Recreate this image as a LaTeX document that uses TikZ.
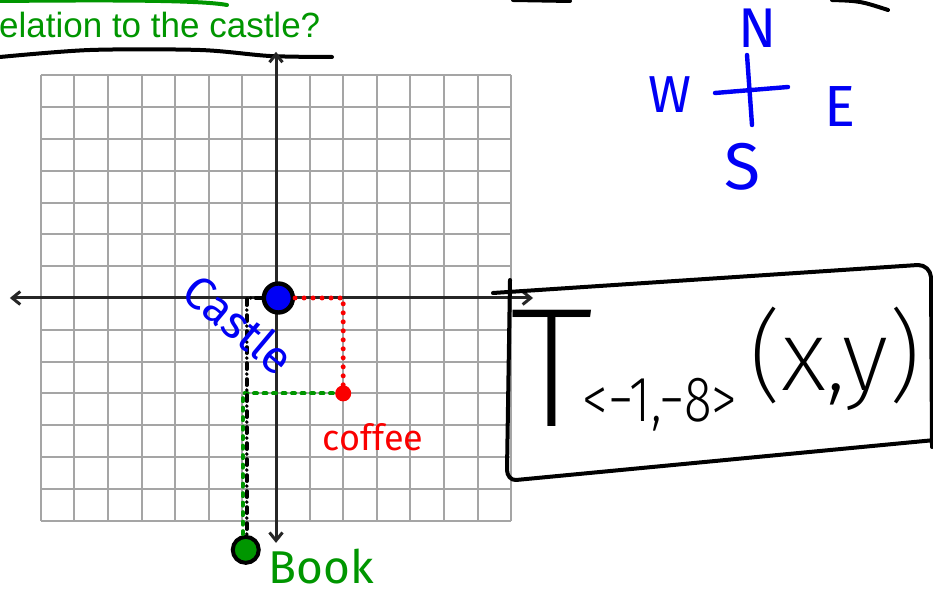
\documentclass[tikz,border=0pt]{standalone}
\usepackage{fontspec}
\setmainfont{Liberation Sans}
\newfontfamily\hand{Fira Sans}
\newfontfamily\handlight{Fira Sans Light}
\newfontfamily\handthin{Fira Sans ExtraLight}
\usetikzlibrary{arrows.meta}
\definecolor{inkblue}{RGB}{0,0,245}
\definecolor{inkred}{RGB}{250,0,0}
\definecolor{inkgreen}{RGB}{0,150,0}
\definecolor{gridgray}{RGB}{165,165,165}

\begin{document}
\begin{tikzpicture}[
  x=1pt, y=1pt,
  g/.style={draw=gridgray, line width=2pt},
  ax/.style={draw=black!85, line width=3pt, <->, >={Straight Barb[length=8pt,width=13pt]}},
  pen/.style={draw=black, line width=4pt, line cap=round, line join=round},
  bpen/.style={pen, draw=inkblue, line width=4.4pt},
  rdot/.style={draw=inkred, line width=5pt, line cap=round, dash pattern=on 0pt off 9pt},
  gdot/.style={draw=inkgreen, line width=4pt, line cap=round, dash pattern=on 3pt off 6.5pt},
  kdash/.style={draw=black, line width=3.8pt, line cap=round, dash pattern=on 6pt off 5pt on 0pt off 5pt},
  dot/.style={circle, inner sep=0pt},
  lab/.style={inner sep=0pt, font=\hand\fontsize{#1}{#1}\selectfont}
]
\path[use as bounding box, fill=white] (0,0) rectangle (933,597);

\node[anchor=base west, inner sep=0pt, text=inkgreen, font=\fontsize{35}{35}\selectfont] (question) at (-1,559) {elation to the castle?};
\draw[pen, draw=inkgreen] (0,596) .. controls (110,597) and (200,597) .. (227,592);
\draw[pen] plot[smooth] coordinates {(0,540) (90,547) (200,547) (270,541) (332,540)};
\draw[pen] (513,597) -- (570,596);
\draw[pen] (832,597) .. controls (860,596) .. (888,587);

\begin{scope}[shift={(276,299)}, x=33.6pt, y=31.8pt]
  \foreach \i in {-7,...,7} {
    \draw[g] (\i,-7) -- (\i,7);
    \draw[g] (-7,\i) -- (7,\i);
  }
  \draw[ax] (-7.92,0) -- (7.65,0);
  \draw[ax] (0,-7.7) -- (0,7.74);

  \node[dot, fill=inkblue, draw=black, line width=4.4pt, minimum size=29pt] (castle) at (0.07,0) {};
  \node[dot, fill=inkred, minimum size=16pt] (coffee) at (2,-3) {};
  \node[dot, fill=inkgreen, draw=black, line width=4pt, minimum size=26pt] (book) at (-0.9,-7.92) {};

  \draw[rdot] (castle.east) -| (coffee.north);
  \draw[gdot] ([xshift=-2pt]coffee.west) -| ([xshift=-3pt]book.north);
  \draw[kdash] (castle.west) -| ([xshift=1pt]book.north);

  \node[lab=46, text=inkblue, rotate=-40] (castlelbl) at (-1.1,-0.82) {Castle};
  \node[lab=36, text=inkred] (coffeelbl) at (2.89,-4.37) {coffee};
  \node[lab=46, text=inkgreen] (booklbl) at (1.34,-8.45) {Book};
\end{scope}

\draw[bpen] (747,542) -- (752,472);
\draw[bpen] (715,504) -- (788,510);
\node[lab=56, text=inkblue] (north) at (758,569) {N};
\node[lab=52, text=inkblue] (west) at (670,502) {W};
\node[lab=58, text=inkblue] (east) at (840,490) {E};
\node[lab=66, text=inkblue] (south) at (742,430) {S};

\draw[pen] (493,304) -- (918,332) to[out=0,in=95] (931,320) -- (932,150);
\draw[pen] (510,317) -- (507,127) to[out=-90,in=185] (516,117) -- (935,157);
\node[inner sep=0pt, font=\handthin\fontsize{170}{170}\selectfont] (tee) at (552,229) {T};
\node[inner sep=0pt, font=\handlight\fontsize{64}{64}\selectfont] (vec) at (660,192) {\scalebox{0.8}[1]{<−1,−8>}};
\node[inner sep=0pt, font=\handthin\fontsize{100}{100}\selectfont] (point) at (835,238) {(x,y)};
\end{tikzpicture}
\end{document}
